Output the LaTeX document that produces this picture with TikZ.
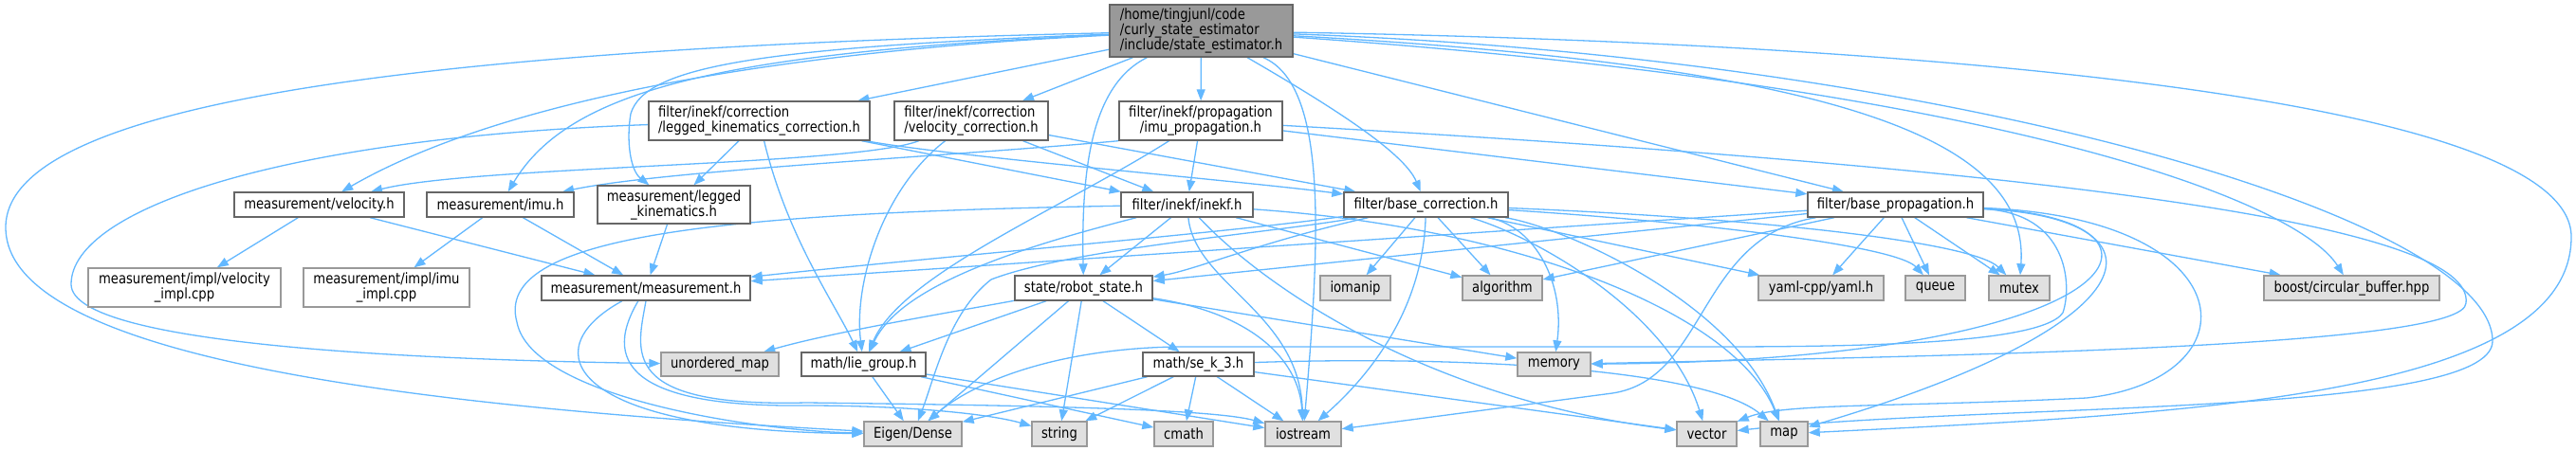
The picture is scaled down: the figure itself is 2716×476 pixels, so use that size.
\documentclass[tikz,border=0pt]{standalone}
\usepackage{fontspec}
\setmainfont{DejaVu Sans}[FakeStretch=0.85]
\usepackage{tikz}
\definecolor{edgeblue}{RGB}{99,184,255}
\definecolor{boxline}{RGB}{102,102,102}
\definecolor{sysline}{RGB}{153,153,153}
\definecolor{sysfill}{RGB}{224,224,224}
\definecolor{rootfill}{RGB}{153,153,153}
\usetikzlibrary{arrows.meta}
\pgfdeclarelayer{edges}
\pgfsetlayers{edges,main}

\begin{document}
\begin{tikzpicture}[
    x=1pt, y=-1pt,
    file/.style={draw=boxline, line width=1.4pt, fill=white, inner sep=2pt,
                 minimum height=26pt, align=center, font=\fontsize{15.5}{16}\selectfont},
    implfile/.style={file, draw=sysline},
    sysfile/.style={file, draw=sysline, fill=sysfill},
    rootfile/.style={file, fill=rootfill, align=left},
    dep/.style={draw=edgeblue, line width=1.3pt, -{Triangle[length=12pt, width=9pt]}}
]
    \useasboundingbox (0,0) rectangle (2716,476);

    % Root file
    \node[rootfile, minimum width=193pt, minimum height=55pt] (root) at (1266.5,32.5)
        {/home/tingjunl/code\\/curly\_state\_estimator\\/include/state\_estimator.h};

    % Filter headers
    \node[file, minimum width=233pt, minimum height=41pt, align=left] (lkc) at (800.5,127.5)
        {filter/inekf/correction\\/legged\_kinematics\_correction.h};
    \node[file, minimum width=162pt, minimum height=41pt, align=left] (vc) at (1024,127.5)
        {filter/inekf/correction\\/velocity\_correction.h};
    \node[file, minimum width=172pt, minimum height=41pt] (ip) at (1266,127.5)
        {filter/inekf/propagation\\/imu\_propagation.h};

    \node[file, minimum width=179pt] (mvel) at (336.5,216) {measurement/velocity.h};
    \node[file, minimum width=155pt] (mimu) at (527.5,216) {measurement/imu.h};
    \node[file, minimum width=161pt, minimum height=40pt] (mlk) at (710.5,216)
        {measurement/legged\\\_kinematics.h};
    \node[file, minimum width=139pt] (inekf) at (1251.5,216) {filter/inekf/inekf.h};
    \node[file, minimum width=173pt] (bc) at (1503.5,216) {filter/base\_correction.h};
    \node[file, minimum width=185pt] (bp) at (1998.5,216) {filter/base\_propagation.h};

    % Measurement and state headers
    \node[implfile, minimum width=203pt, minimum height=41pt] (vimpl) at (194.5,303.5)
        {measurement/impl/velocity\\\_impl.cpp};
    \node[implfile, minimum width=175pt, minimum height=41pt] (iimpl) at (407.5,303.5)
        {measurement/impl/imu\\\_impl.cpp};
    \node[file, minimum width=220pt] (meas) at (681,304) {measurement/measurement.h};
    \node[file, minimum width=145pt] (rs) at (1142.5,304) {state/robot\_state.h};
    \node[sysfile, minimum width=74pt] (iomanip) at (1429,304) {iomanip};
    \node[sysfile, minimum width=84pt] (algorithm) at (1584,304) {algorithm};
    \node[sysfile, minimum width=132pt] (yaml) at (1920,304) {yaml-cpp/yaml.h};
    \node[sysfile, minimum width=63pt] (queue) at (2040.5,304) {queue};
    \node[sysfile, minimum width=64pt] (mutex) at (2129,304) {mutex};
    \node[sysfile, minimum width=185pt] (boost) at (2479.5,304) {boost/circular\_buffer.hpp};

    % Math headers
    \node[sysfile, minimum width=124pt, minimum height=25pt] (umap) at (759,384.5) {unordered\_map};
    \node[file, minimum width=131pt, minimum height=25pt] (lie) at (910.5,384.5) {math/lie\_group.h};
    \node[file, minimum width=117pt, minimum height=25pt] (se3) at (1263.5,384.5) {math/se\_k\_3.h};
    \node[sysfile, minimum width=77pt, minimum height=25pt] (memory) at (1638.5,384.5) {memory};

    % System headers
    \node[sysfile, minimum width=103pt] (eigen) at (962.5,458) {Eigen/Dense};
    \node[sysfile, minimum width=58pt] (string) at (1117,458) {string};
    \node[sysfile, minimum width=62pt] (cmath) at (1248,458) {cmath};
    \node[sysfile, minimum width=80pt] (iostream) at (1374,458) {iostream};
    \node[sysfile, minimum width=63pt] (vector) at (1799.5,458) {vector};
    \node[sysfile, minimum width=50pt] (map) at (1881,458) {map};

    \begin{pgfonlayer}{edges}
    \fill[white] (0,0) rectangle (2716,476);

    % Includes of the root file
    \draw[dep] (root) -- (lkc);
    \draw[dep] (root) -- (vc);
    \draw[dep] (root) -- (ip);
    \draw[dep] (root) .. controls (800,55) and (520,110) .. (mvel);
    \draw[dep] (root) .. controls (760,55) and (600,95) .. (mimu);
    \draw[dep] (root) .. controls (800,50) and (680,70) .. (665,120)
        .. controls (660,150) and (665,180) .. (mlk);
    \draw[dep] (root) .. controls (1400,110) and (1480,160) .. (bc);
    \draw[dep] (root) -- (bp);
    \draw[dep] (root) .. controls (1150,90) and (1140,180) .. (rs);
    \draw[dep] (root) .. controls (1400,90) and (1392,250) .. (iostream);
    \draw[dep] (root) .. controls (500,50) and (6,100) .. (6,240)
        .. controls (6,380) and (450,430) .. (eigen);
    \draw[dep] (root) .. controls (1950,70) and (2140,150) .. (mutex);
    \draw[dep] (root) .. controls (2100,90) and (2420,210) .. (boost);
    \draw[dep] (root) .. controls (2050,60) and (2628,230) .. (2628,360)
        .. controls (2628,440) and (2100,425) .. (vector);
    \draw[dep] (root) .. controls (2000,45) and (2711,100) .. (2711,250)
        .. controls (2711,420) and (2300,437) .. (map);

    % Filter headers
    \draw[dep] (lkc) -- (mlk);
    \draw[dep] (lkc) -- (inekf);
    \draw[dep] (lkc) .. controls (1000,165) and (1300,190) .. (bc);
    \draw[dep] (lkc) .. controls (830,250) and (880,320) .. (lie);
    \draw[dep] (lkc) .. controls (300,145) and (75,220) .. (75,300)
        .. controls (75,365) and (450,380) .. (umap);
    \draw[dep] (vc) .. controls (900,175) and (500,175) .. (mvel);
    \draw[dep] (vc) -- (inekf);
    \draw[dep] (vc) -- (bc);
    \draw[dep] (vc) .. controls (930,200) and (900,300) .. (lie);
    \draw[dep] (ip) -- (inekf);
    \draw[dep] (ip.south west) .. controls (1000,165) and (700,180) .. (mimu);
    \draw[dep] (ip) -- (bp);
    \draw[dep] (ip) .. controls (1120,220) and (950,290) .. (lie);
    \draw[dep] (ip) .. controls (2200,180) and (2610,240) .. (2600,320)
        .. controls (2598,365) and (2100,375) .. (memory);

    \draw[dep] (inekf) -- (rs);
    \draw[dep] (inekf) .. controls (1080,260) and (950,300) .. (lie);
    \draw[dep] (inekf) -- (algorithm);
    \draw[dep] (inekf) .. controls (1260,300) and (1370,330) .. (iostream);
    \draw[dep] (inekf) .. controls (1330,300) and (1500,420) .. (vector);
    \draw[dep] (inekf) .. controls (1600,240) and (1830,330) .. (map);
    \draw[dep] (inekf) .. controls (750,225) and (520,250) .. (545,340)
        .. controls (560,420) and (800,455) .. (eigen);

    \draw[dep] (bc) .. controls (1300,245) and (1000,270) .. (meas);
    \draw[dep] (bc) .. controls (1330,255) and (1260,285) .. (rs);
    \draw[dep] (bc) -- (iomanip);
    \draw[dep] (bc) -- (algorithm);
    \draw[dep] (bc) .. controls (1500,330) and (1440,400) .. (iostream);
    \draw[dep] (bc) .. controls (1350,245) and (1130,262) .. (1045,295)
        .. controls (1000,330) and (985,400) .. (eigen);
    \draw[dep] (bc) .. controls (1620,240) and (1650,300) .. (memory);
    \draw[dep] (bc) .. controls (1620,250) and (1760,330) .. (vector);
    \draw[dep] (bc) .. controls (1650,240) and (1830,320) .. (map);
    \draw[dep] (bc) -- (yaml);
    \draw[dep] (bc) .. controls (1800,235) and (2000,260) .. (queue);
    \draw[dep] (bc) .. controls (1850,230) and (2080,255) .. (mutex);

    \draw[dep] (bp) -- (meas);
    \draw[dep] (bp) -- (rs);
    \draw[dep] (bp) -- (algorithm);
    \draw[dep] (bp) -- (yaml);
    \draw[dep] (bp) -- (queue);
    \draw[dep] (bp) -- (mutex);
    \draw[dep] (bp) -- (boost);
    \draw[dep] (bp) .. controls (2180,225) and (2185,300) .. (2175,330)
        .. controls (2150,368) and (1900,366) .. (1750,366) -- (1240,366)
        .. controls (1120,368) and (1030,400) .. (eigen);
    \draw[dep] (bp) .. controls (2320,230) and (2260,380) .. (memory);
    \draw[dep] (bp) .. controls (2290,230) and (2280,340) .. (map);
    \draw[dep] (bp) .. controls (2370,230) and (2380,400) .. (2200,420)
        .. controls (2000,430) and (1880,425) .. (vector);
    \draw[dep] (bp) .. controls (1790,250) and (1800,400) .. (1700,415) -- (iostream);

    % Measurement headers
    \draw[dep] (mvel) -- (vimpl);
    \draw[dep] (mvel) -- (meas);
    \draw[dep] (mimu) -- (iimpl);
    \draw[dep] (mimu) -- (meas);
    \draw[dep] (mlk) -- (meas);
    \draw[dep] (meas) .. controls (560,370) and (600,455) .. (eigen);
    \draw[dep] (meas) .. controls (630,390) and (680,430) .. (850,428)
        .. controls (950,428) and (1040,436) .. (string);
    \draw[dep] (meas.south) .. controls (672,370) and (650,430) .. (850,425)
        .. controls (1100,428) and (1280,432) .. (iostream);

    % State and math headers
    \draw[dep] (rs) .. controls (1000,330) and (880,350) .. (umap);
    \draw[dep] (rs) -- (lie);
    \draw[dep] (rs) -- (eigen);
    \draw[dep] (rs) -- (string);
    \draw[dep] (rs) -- (se3);
    \draw[dep] (rs) .. controls (1320,330) and (1370,380) .. (iostream);
    \draw[dep] (rs) -- (memory);
    \draw[dep] (lie) -- (eigen);
    \draw[dep] (lie) -- (cmath);
    \draw[dep] (lie) -- (iostream);
    \draw[dep] (se3) -- (eigen);
    \draw[dep] (se3) -- (string);
    \draw[dep] (se3) -- (cmath);
    \draw[dep] (se3) -- (iostream);
    \draw[dep] (se3) -- (vector);
    \draw[dep] (se3) .. controls (1550,375) and (1800,390) .. (map);
    \end{pgfonlayer}
\end{tikzpicture}
\end{document}
